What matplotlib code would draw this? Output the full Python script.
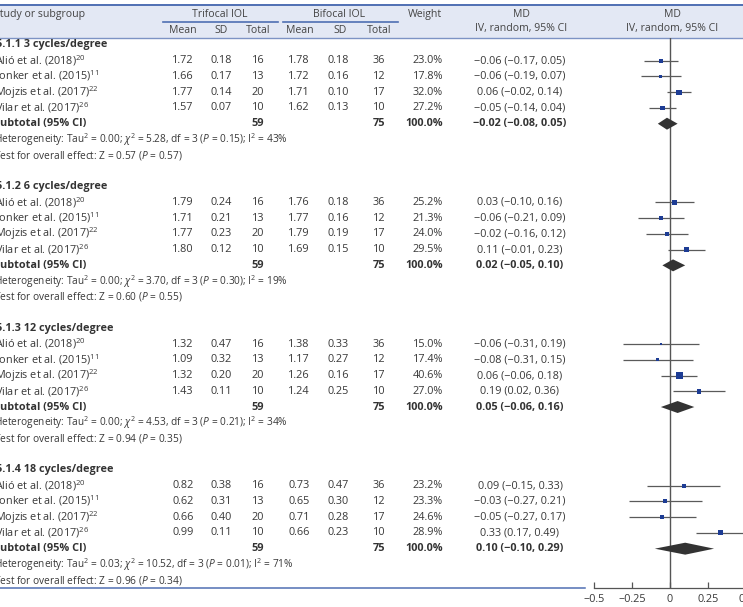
import matplotlib
matplotlib.use("Agg")
import matplotlib.pyplot as plt
from matplotlib.patches import Rectangle

FONT = "Open Sans"
plt.rcParams['font.family'] = [FONT, 'DejaVu Sans']
plt.rcParams['mathtext.fontset'] = 'custom'
plt.rcParams['mathtext.rm'] = FONT
plt.rcParams['mathtext.it'] = FONT + ':italic'
plt.rcParams['mathtext.bf'] = FONT + ':bold'

# ---------------- data ----------------
groups = ["5.1.1 3 cycles/degree", "5.1.2 6 cycles/degree",
          "5.1.3 12 cycles/degree", "5.1.4 18 cycles/degree"]
studies = ["Alió et al. (2018)", "Jonker et al. (2015)", "Mojzis et al. (2017)", "Vilar et al. (2017)"]
refs = ["20", "11", "22", "26"]
tri_mean = [[1.72, 1.66, 1.77, 1.57], [1.79, 1.71, 1.77, 1.80],
            [1.32, 1.09, 1.32, 1.43], [0.82, 0.62, 0.66, 0.99]]
tri_sd = [[0.18, 0.17, 0.14, 0.07], [0.24, 0.21, 0.23, 0.12],
          [0.47, 0.32, 0.20, 0.11], [0.38, 0.31, 0.40, 0.11]]
tri_n = [16, 13, 20, 10]
bi_mean = [[1.78, 1.72, 1.71, 1.62], [1.76, 1.77, 1.79, 1.69],
           [1.38, 1.17, 1.26, 1.24], [0.73, 0.65, 0.71, 0.66]]
bi_sd = [[0.18, 0.16, 0.10, 0.13], [0.18, 0.16, 0.19, 0.15],
         [0.33, 0.27, 0.16, 0.25], [0.47, 0.30, 0.28, 0.23]]
bi_n = [36, 12, 17, 10]
weights = [[23.0, 17.8, 32.0, 27.2], [25.2, 21.3, 24.0, 29.5],
           [15.0, 17.4, 40.6, 27.0], [23.2, 23.3, 24.6, 28.9]]
md = [[-0.06, -0.06, 0.06, -0.05], [0.03, -0.06, -0.02, 0.11],
      [-0.06, -0.08, 0.06, 0.19], [0.09, -0.03, -0.05, 0.33]]
md_lo = [[-0.17, -0.19, -0.02, -0.14], [-0.10, -0.21, -0.16, -0.01],
         [-0.31, -0.31, -0.06, 0.02], [-0.15, -0.27, -0.27, 0.17]]
md_hi = [[0.05, 0.07, 0.14, 0.04], [0.16, 0.09, 0.12, 0.23],
         [0.19, 0.15, 0.18, 0.36], [0.33, 0.21, 0.17, 0.49]]
sub_md = [-0.02, 0.02, 0.05, 0.10]
sub_lo = [-0.08, -0.05, -0.06, -0.10]
sub_hi = [0.05, 0.10, 0.16, 0.29]
sub_tri_n = [59, 59, 59, 59]
sub_bi_n = [75, 75, 75, 75]
tau2 = ["0.00", "0.00", "0.00", "0.03"]
chi2 = ["5.28", "3.70", "4.53", "10.52"]
het_p = ["0.15", "0.30", "0.21", "0.01"]
i2 = ["43", "19", "34", "71"]
z_val = ["0.57", "0.60", "0.94", "0.96"]
z_p = ["0.57", "0.55", "0.35", "0.34"]
x_ticks = [-0.5, -0.25, 0, 0.25, 0.5]
x_ticklabels = ["\u22120.5", "\u22120.25", "0", "0.25", "0.5"]

# ---------------- layout ----------------
W, H = 743, 607
fig = plt.figure(figsize=(W / 100, H / 100), dpi=100)
tab = fig.add_axes([0, 0, 1, 1])
tab.set_xlim(0, W)
tab.set_ylim(H, 0)
tab.axis('off')

TXT = '#383838'
HDR = '#444444'
BLUE = '#4f6fb3'
FS = 7.8
HFS = 7.6
SFS = 7.3

ROW0, DY = 45.0, 15.74


def ry(r):
    return ROW0 + DY * r


def fmt(v):
    return f"{v:.2f}".replace('-', '\u2212')


def ci(m, l, h):
    return f"{fmt(m)} ({fmt(l)}, {fmt(h)})"


# header band
tab.add_patch(Rectangle((0, 5), W, 33, facecolor='#e3e8f4', edgecolor='none', zorder=0))
tab.plot([0, W], [5, 5], color=BLUE, lw=1.4)
tab.plot([0, W], [38, 38], color='#7d93c4', lw=1.0)
tab.plot([163, 278], [21.5, 21.5], color=BLUE, lw=1.2)
tab.plot([283, 398], [21.5, 21.5], color=BLUE, lw=1.2)

hkw = dict(color=HDR, fontsize=HFS, va='center')
tab.text(-6, 14.5, "Study or subgroup", ha='left', **hkw)
tab.text(220, 14.5, "Trifocal IOL", ha='center', **hkw)
tab.text(339, 14.5, "Bifocal IOL", ha='center', **hkw)
tab.text(425, 14.5, "Weight", ha='center', **hkw)
tab.text(521, 14.5, "MD", ha='center', **hkw)
tab.text(521, 29, "IV, random, 95% CI", ha='center', **hkw)
tab.text(672, 14.5, "MD", ha='center', **hkw)
tab.text(672, 29, "IV, random, 95% CI", ha='center', **hkw)
for xc, lab in zip([183, 221, 258, 300, 340, 379], ["Mean", "SD", "Total"] * 2):
    tab.text(xc, 30.5, lab, ha='center', **hkw)

col_x = [183, 221, 258, 299, 338, 379]
WX = 443
MDX = 520

kw = dict(color=TXT, fontsize=FS, va='center')
bkw = dict(color='#333333', fontsize=FS, va='center', fontweight='bold')

# forest axes: x=-0.5 at px 594, 1 unit = 152 px; y from px 38 to 588
fx0, fx1 = 594, 746
fy0, fy1 = 38, 588
fa = fig.add_axes([fx0 / W, (H - fy1) / H, (fx1 - fx0) / W, (fy1 - fy0) / H])
fa.patch.set_alpha(0)
fa.set_xlim(-0.5, 0.5)
fa.set_ylim((fy1 - ROW0) / DY, (fy0 - ROW0) / DY)
for s in ['left', 'right', 'top']:
    fa.spines[s].set_visible(False)
fa.spines['bottom'].set_color('#555555')
fa.spines['bottom'].set_linewidth(0.9)
fa.set_yticks([])
fa.set_xticks(x_ticks)
fa.set_xticklabels(x_ticklabels)
fa.tick_params(axis='x', direction='in', length=4, width=0.9, color='#555555',
               labelsize=FS, labelcolor=TXT, pad=4)
fa.axvline(0, color='#555555', lw=1.0, zorder=1)

for g in range(4):
    base = 9 * g
    tab.text(-4, ry(base), groups[g], ha='left', **bkw)
    rows = []
    for i in range(4):
        r = base + 1 + i
        rows.append(r)
        y = ry(r)
        tab.text(-5, y, studies[i] + "$^{" + refs[i] + "}$", ha='left', **kw)
        vals = [f"{tri_mean[g][i]:.2f}", f"{tri_sd[g][i]:.2f}", str(tri_n[i]),
                f"{bi_mean[g][i]:.2f}", f"{bi_sd[g][i]:.2f}", str(bi_n[i])]
        for xc, v in zip(col_x, vals):
            tab.text(xc, y, v, ha='center', **kw)
        tab.text(WX, y, f"{weights[g][i]:.1f}%", ha='right', **kw)
        tab.text(MDX, y, ci(md[g][i], md_lo[g][i], md_hi[g][i]), ha='center', **kw)
    # forest marks
    fa.hlines(rows, md_lo[g], md_hi[g], color='#5a5a5a', lw=0.9, zorder=2)
    sizes = [(w * 0.17 * 0.72) ** 2 for w in weights[g]]
    fa.scatter(md[g], rows, s=sizes, marker='s', color='#1d3c94', zorder=3, linewidths=0)

    rs = base + 5
    y = ry(rs)
    tab.text(-6, y, "Subtotal (95% CI)", ha='left', **bkw)
    tab.text(col_x[2], y, str(sub_tri_n[g]), ha='center', **bkw)
    tab.text(col_x[5], y, str(sub_bi_n[g]), ha='center', **bkw)
    tab.text(WX, y, "100.0%", ha='right', **bkw)
    tab.text(MDX, y, ci(sub_md[g], sub_lo[g], sub_hi[g]), ha='center', **bkw)
    hh = 0.38
    fa.fill([sub_lo[g], sub_md[g], sub_hi[g], sub_md[g]],
            [rs, rs - hh, rs, rs + hh], color='#333333', zorder=3, lw=0)

    tab.text(-6, ry(base + 6),
             "Heterogeneity: Tau$^2$ = " + tau2[g] + "; $\\chi^2$ = " + chi2[g]
             + ", df = 3 ($P$ = " + het_p[g] + "); I$^2$ = " + i2[g] + "%",
             ha='left', color=TXT, fontsize=SFS, va='center')
    tab.text(-6, ry(base + 7),
             "Test for overall effect: Z = " + z_val[g] + " ($P$ = " + z_p[g] + ")",
             ha='left', color=TXT, fontsize=SFS, va='center')

tab.plot([0, 585], [588, 588], color=BLUE, lw=1.1)

fig.savefig("out.png", dpi=100)
